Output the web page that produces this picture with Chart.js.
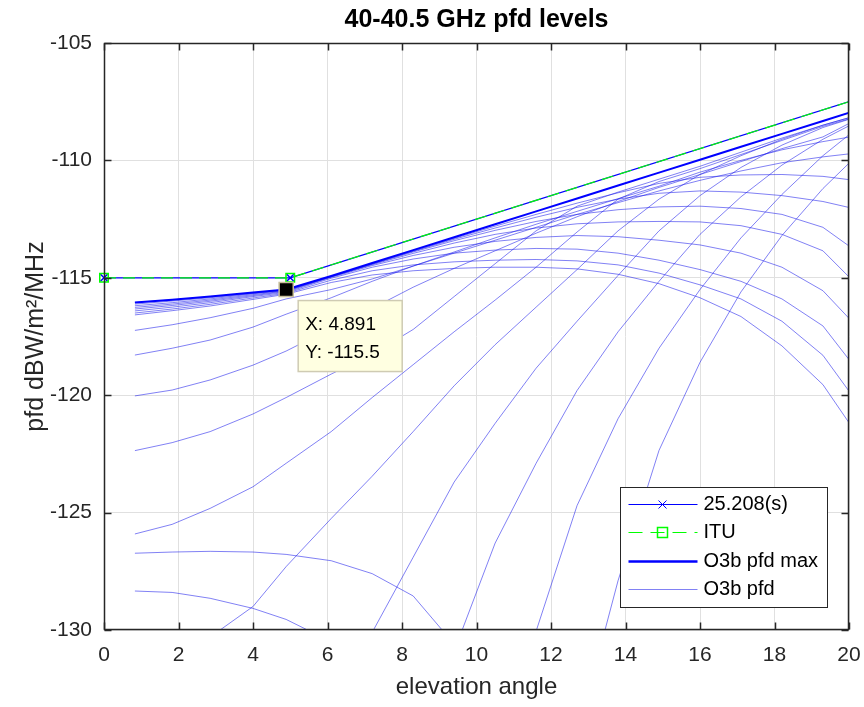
<!DOCTYPE html>
<html>
<head>
<meta charset="utf-8">
<title>40-40.5 GHz pfd levels</title>
<script src="https://cdn.jsdelivr.net/npm/chart.js@4.4.1/dist/chart.umd.min.js"></script>
<style>
  html, body { margin: 0; padding: 0; background: #fff; }
</style>
</head>
<body>
<canvas id="pfdchart" width="864" height="707"></canvas>
<script>
// elevation samples of the O3b curves (deg)
var elev = [0.83, 1.83, 2.85, 4.0, 4.89, 6.1, 7.2, 8.3, 9.4, 10.5, 11.6, 12.7, 13.8, 14.9, 16.0, 17.1, 18.2, 19.3, 20.4];

// pfd masks
var maskElev = [0, 5, 25];
var sampleMask = [-115, -115, -105];   // 25.208(s)
var ituMask = [-115, -115, -105];

// envelope of all O3b curves
var pfdMax = [-116.05, -115.93, -115.8, -115.63, -115.5, -114.92, -114.37, -113.82, -113.27, -112.72,
              -112.17, -111.62, -111.07, -110.52, -109.97, -109.42, -108.87, -108.32, -107.77];

// single O3b pfd curves (null = not in view)
var pfd01 = [-116.05, -115.94, -115.81, -115.64, -115.51, -114.93, -114.39, -113.85, -113.32, -112.8,
             -112.3, -111.82, -111.38, -110.98, -110.72, -110.62, -110.6, -110.68, -110.9];
var pfd02 = [-116.12, -115.99, -115.85, -115.66, -115.52, -114.94, -114.4, -113.87, -113.36, -112.88,
             -112.42, -112.0, -111.65, -111.4, -111.3, -111.35, -111.5, -111.75, -112.15];
var pfd03 = [-116.19, -116.06, -115.9, -115.68, -115.54, -114.95, -114.42, -113.9, -113.42, -112.98,
             -112.6, -112.3, -112.1, -111.98, -111.95, -112.05, -112.3, -112.85, -114.1];
var pfd04 = [-116.26, -116.12, -115.95, -115.72, -115.56, -114.96, -114.44, -113.96, -113.52, -113.15,
             -112.88, -112.7, -112.62, -112.6, -112.62, -112.78, -113.15, -113.85, -115.6];
var pfd05 = [-116.33, -116.18, -116.0, -115.76, -115.58, -114.98, -114.48, -114.05, -113.7, -113.45,
             -113.28, -113.2, -113.25, -113.4, -113.6, -113.95, -114.55, -115.55, -117.4];
var pfd06 = [-116.41, -116.25, -116.06, -115.8, -115.62, -115.02, -114.55, -114.2, -113.95, -113.82,
             -113.75, -113.78, -113.95, -114.25, -114.65, -115.15, -115.9, -117.05, -119.3];
var pfd07 = [-116.5, -116.33, -116.13, -115.86, -115.66, -115.1, -114.7, -114.45, -114.32, -114.25,
             -114.22, -114.28, -114.45, -114.8, -115.3, -115.9, -116.85, -118.3, -120.7];
var pfd08 = [-116.58, -116.4, -116.2, -115.92, -115.7, -115.2, -114.88, -114.7, -114.6, -114.55,
             -114.55, -114.62, -114.85, -115.25, -115.85, -116.65, -117.9, -119.55, -122.1];
var pfd09 = [-117.24, -117.0, -116.7, -116.3, -115.9, -115.5, -115.05, -114.5, -113.95, -113.4,
             -112.85, -112.3, -111.8, -111.3, -110.85, -110.45, -110.1, -109.85, -109.65];
var pfd10 = [-118.29, -118.0, -117.65, -117.1, -116.55, -115.85, -115.15, -114.5, -113.9, -113.3,
             -112.72, -112.17, -111.63, -111.1, -110.5, -110.0, -109.55, -109.2, -108.9];
var pfd11 = [-120.03, -119.78, -119.35, -118.72, -118.12, -117.15, -116.3, -115.4, -114.6, -113.85,
             -113.1, -112.4, -111.75, -111.15, -110.6, -110.05, -109.5, -109.0, -108.1];
var pfd12 = [-122.36, -122.02, -121.55, -120.8, -120.1, -119.1, -118.25, -117.2, -115.8, -114.4,
             -113.0, -111.95, -111.35, -110.8, -110.25, -109.65, -109.05, -108.5, -108.0];
var pfd13 = [-125.91, -125.5, -124.82, -123.9, -122.9, -121.55, -120.1, -118.7, -117.3, -115.95,
             -114.55, -113.05, -111.65, -110.9, -110.35, -109.75, -109.15, -108.55, -108.05];
var pfd14 = [-126.73, -126.68, -126.65, -126.68, -126.78, -127.05, -127.6, -128.55, -130.6, null,
             null, null, null, null, null, null, null, null, null];
var pfd15 = [-128.34, -128.4, -128.65, -129.08, -129.55, -130.5, null, null, null, null,
             null, null, null, null, null, null, null, null, null];
var pfd16 = [null, null, -130.3, -129.0, -127.3, -125.25, -123.45, -121.55, -119.6, -117.85,
             -116.25, -114.65, -113.0, -111.65, -110.6, -109.8, -109.1, -108.5, -108.0];
var pfd17 = [null, null, null, null, null, null, -130.1, -126.9, -123.7, -121.2,
             -118.85, -116.85, -114.9, -113.0, -111.5, -110.3, -109.35, -108.6, -108.05];
var pfd18 = [null, null, null, null, null, null, null, null, -130.9, -126.3,
             -122.9, -119.8, -117.3, -115.15, -113.15, -111.55, -110.2, -109.1, -108.2];
var pfd19 = [null, null, null, null, null, null, null, null, null, null,
             -130.05, -124.7, -121.0, -118.0, -115.5, -113.3, -111.45, -109.8, -108.4];
var pfd20 = [null, null, null, null, null, null, null, null, null, null,
             null, -134.5, -127.9, -122.35, -118.6, -115.6, -113.2, -111.2, -109.5];

var pfdCurves = [pfd01, pfd02, pfd03, pfd04, pfd05, pfd06, pfd07, pfd08, pfd09, pfd10,
                 pfd11, pfd12, pfd13, pfd14, pfd15, pfd16, pfd17, pfd18, pfd19, pfd20];

// data tip
var tipX = 4.891;
var tipY = -115.5;

var chartTitle = '40-40.5 GHz pfd levels';
var xTitle = 'elevation angle';
var yTitle = 'pfd dBW/m\u00B2/MHz';
var legendLabels = ['25.208(s)', 'ITU', 'O3b pfd max', 'O3b pfd'];

var FONT = '"Liberation Sans", Arial, Helvetica, sans-serif';
var AXIS = '#262626';
var THIN = 'rgba(25, 25, 235, 0.55)';

function toPoints(xs, ys) {
    return xs.map(function(x, i) {
        return {x: x, y: ys[i]};
    });
}

// box, inward ticks, title, legend and data tip
var decorations = {
    id: 'decorations',
    afterDraw: function(chart) {
        var ctx = chart.ctx;
        var area = chart.chartArea;
        var xs = chart.scales.x;
        var ys = chart.scales.y;
        var l = Math.round(area.left) + 0.5;
        var r = Math.round(area.right) - 0.5;
        var t = Math.round(area.top) + 0.5;
        var b = Math.round(area.bottom) - 0.5;
        ctx.save();

        ctx.fillStyle = '#000';
        ctx.font = 'bold 25px ' + FONT;
        ctx.textAlign = 'center';
        ctx.textBaseline = 'middle';
        ctx.fillText(chartTitle, (area.left + area.right) / 2, 20);

        ctx.strokeStyle = AXIS;
        ctx.lineWidth = 1.5;
        ctx.strokeRect(l, t, r - l, b - t);
        ctx.beginPath();
        xs.ticks.forEach(function(tk) {
            var px = Math.round(xs.getPixelForValue(tk.value)) + 0.5;
            ctx.moveTo(px, b);
            ctx.lineTo(px, b - 7);
            ctx.moveTo(px, t);
            ctx.lineTo(px, t + 7);
        });
        ys.ticks.forEach(function(tk) {
            var py = Math.round(ys.getPixelForValue(tk.value)) + 0.5;
            ctx.moveTo(l, py);
            ctx.lineTo(l + 7, py);
            ctx.moveTo(r, py);
            ctx.lineTo(r - 7, py);
        });
        ctx.stroke();

        // data tip
        var tx = xs.getPixelForValue(tipX);
        var ty = ys.getPixelForValue(tipY);
        ctx.fillStyle = '#ffffe1';
        ctx.strokeStyle = '#cfcbb3';
        ctx.lineWidth = 1.5;
        ctx.fillRect(tx + 12, ty + 11, 104, 71);
        ctx.strokeRect(tx + 12, ty + 11, 104, 71);
        ctx.fillStyle = '#000';
        ctx.font = '19px ' + FONT;
        ctx.textAlign = 'left';
        ctx.fillText('X: ' + tipX, tx + 19, ty + 35);
        ctx.fillText('Y: ' + tipY.toFixed(1), tx + 19, ty + 63);

        // legend
        var lx = Math.round(area.right) - 229 + 0.5;
        var ly = Math.round(area.bottom) - 143 + 0.5;
        ctx.fillStyle = '#fff';
        ctx.fillRect(lx, ly, 207, 120);
        ctx.strokeStyle = AXIS;
        ctx.lineWidth = 1;
        ctx.strokeRect(lx, ly, 207, 120);
        var rows = [17, 45, 74, 102];
        var x0 = lx + 8, x1 = lx + 77, xm = lx + 42;

        ctx.strokeStyle = '#0000ff';
        ctx.lineWidth = 1;
        ctx.beginPath();
        ctx.moveTo(x0, ly + rows[0]);
        ctx.lineTo(x1, ly + rows[0]);
        ctx.moveTo(xm - 4, ly + rows[0] - 4);
        ctx.lineTo(xm + 4, ly + rows[0] + 4);
        ctx.moveTo(xm - 4, ly + rows[0] + 4);
        ctx.lineTo(xm + 4, ly + rows[0] - 4);
        ctx.stroke();

        ctx.strokeStyle = '#00ff00';
        ctx.setLineDash([14, 8]);
        ctx.beginPath();
        ctx.moveTo(x0, ly + rows[1]);
        ctx.lineTo(x1, ly + rows[1]);
        ctx.stroke();
        ctx.setLineDash([]);
        ctx.lineWidth = 1.5;
        ctx.strokeRect(xm - 5, ly + rows[1] - 5, 10, 10);

        ctx.strokeStyle = '#0000ff';
        ctx.lineWidth = 2.5;
        ctx.beginPath();
        ctx.moveTo(x0, ly + rows[2]);
        ctx.lineTo(x1, ly + rows[2]);
        ctx.stroke();

        ctx.strokeStyle = THIN;
        ctx.lineWidth = 1;
        ctx.beginPath();
        ctx.moveTo(x0, ly + rows[3]);
        ctx.lineTo(x1, ly + rows[3]);
        ctx.stroke();

        ctx.fillStyle = '#000';
        ctx.font = '20px ' + FONT;
        legendLabels.forEach(function(txt, i) {
            ctx.fillText(txt, lx + 83, ly + rows[i]);
        });
        ctx.restore();
    }
};

var maskClip = {left: 10, top: 0, right: 0, bottom: 0};

var datasets = [
    {
        label: 'tip',
        data: [{x: tipX, y: tipY}],
        showLine: false,
        pointStyle: 'rect',
        pointRadius: 10,
        pointBackgroundColor: '#000',
        pointBorderColor: '#c8c09c',
        pointBorderWidth: 1.5,
        clip: false
    },
    {
        label: legendLabels[1],
        data: toPoints(maskElev, ituMask),
        borderColor: '#00ff00',
        borderWidth: 1.2,
        borderDash: [12, 7],
        pointStyle: 'rect',
        pointRadius: 6,
        pointBorderColor: '#00ff00',
        pointBackgroundColor: 'rgba(0,0,0,0)',
        pointBorderWidth: 1.5,
        clip: maskClip
    },
    {
        label: legendLabels[0],
        data: toPoints(maskElev, sampleMask),
        borderColor: '#0000ff',
        borderWidth: 1.2,
        pointStyle: 'crossRot',
        pointRadius: 5,
        pointBorderColor: '#0000ff',
        pointBorderWidth: 1.5,
        clip: maskClip
    },
    {
        label: legendLabels[2],
        data: toPoints(elev, pfdMax),
        borderColor: '#0000ff',
        borderWidth: 2,
        pointRadius: 0
    }
];

pfdCurves.forEach(function(curve, i) {
    datasets.push({
        label: legendLabels[3] + ' ' + (i + 1),
        data: toPoints(elev, curve),
        borderColor: THIN,
        borderWidth: 1,
        pointRadius: 0
    });
});

Chart.defaults.font.family = FONT;

new Chart(document.getElementById('pfdchart').getContext('2d'), {
    type: 'line',
    data: {datasets: datasets},
    options: {
        responsive: false,
        animation: false,
        events: [],
        layout: {padding: {top: 43, right: 15, bottom: 0, left: 0}},
        plugins: {
            legend: {display: false},
            tooltip: {enabled: false}
        },
        scales: {
            x: {
                type: 'linear',
                min: 0,
                max: 20,
                ticks: {stepSize: 2, padding: 13, color: AXIS, font: {size: 21}},
                grid: {color: '#e0e0e0', drawTicks: false},
                border: {display: false},
                title: {display: true, text: xTitle, color: AXIS, font: {size: 24}, padding: {top: 0, bottom: 5}},
                afterFit: function(scale) {
                    scale.height = 77;
                    scale.paddingLeft = 0;
                    scale.paddingRight = 0;
                }
            },
            y: {
                type: 'linear',
                min: -130,
                max: -105,
                ticks: {stepSize: 5, padding: 12, color: AXIS, font: {size: 21}},
                grid: {color: '#e0e0e0', drawTicks: false},
                border: {display: false},
                title: {display: true, text: yTitle, color: AXIS, font: {size: 25}, padding: {top: 21, bottom: 0}},
                afterFit: function(scale) {
                    scale.width = 104;
                    scale.paddingTop = 0;
                    scale.paddingBottom = 0;
                }
            }
        }
    },
    plugins: [decorations]
});
</script>
</body>
</html>
